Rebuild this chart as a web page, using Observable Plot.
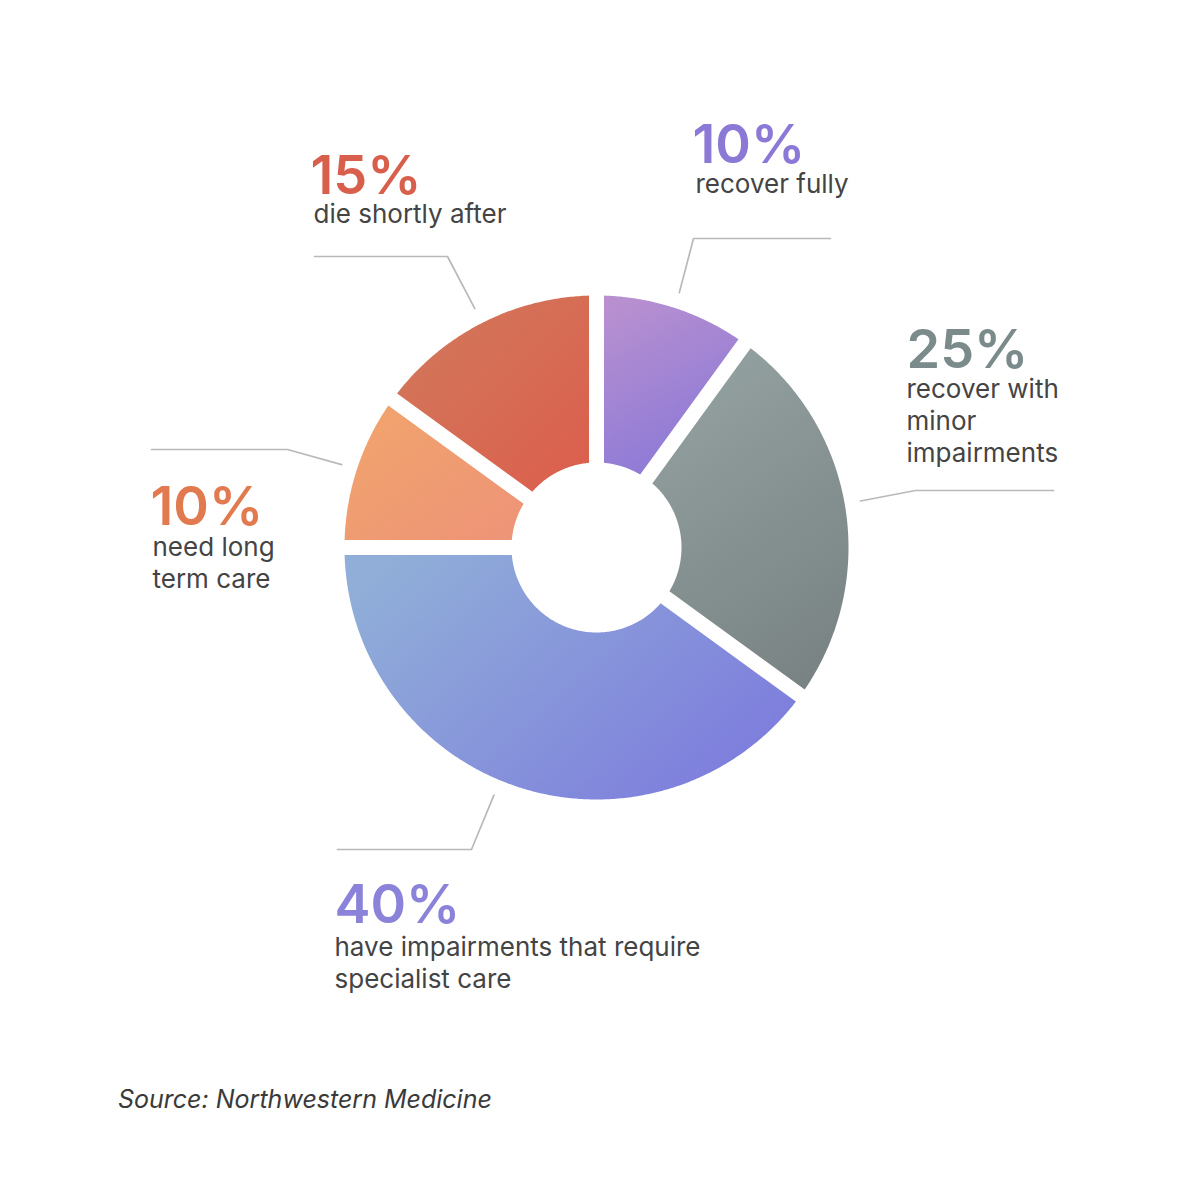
<!DOCTYPE html>
<html>
<head>
<meta charset="utf-8">
<script src="https://cdn.jsdelivr.net/npm/d3@7"></script>
<script src="https://cdn.jsdelivr.net/npm/@observablehq/plot@0.6"></script>
<style>
  html, body { margin: 0; padding: 0; background: #ffffff; }
  #chart { width: 1200px; }
  #chart g.pct text { letter-spacing: -1.5px; }
  #caption { font-family: Inter, "Open Sans", sans-serif; font-style: italic; font-size: 25px; color: #3a3a3a; padding-left: 118px; margin-top: 14px; line-height: 30px; }
</style>
</head>
<body>
<div id="chart"></div>
<div id="caption"></div>
<script>
// ---- data ----
const categories = ["recover fully", "recover with minor impairments", "have impairments that require specialist care", "need long term care", "die shortly after"];
const shares = [10, 25, 40, 10, 15];
const pctLabels = ["10%", "25%", "40%", "10%", "15%"];
const descriptions = ["recover fully", "recover with\nminor\nimpairments", "have impairments that require\nspecialist care", "need long\nterm care", "die shortly after"];
const sourceText = "Source: Northwestern Medicine";

// ---- styles ----
const labelColors = ["#8c79d6", "#7b8b8b", "#8a83d9", "#e27a50", "#d95f4d"];
const gradients = [
  {stops: ["#b890d0", "#8a78d7"], x1: 0.2, y1: 0, x2: 0.6, y2: 1},
  {stops: ["#93a1a0", "#798383"], x1: 0.3, y1: 0, x2: 0.7, y2: 1},
  {stops: ["#90aed8", "#7d7bdd"], x1: 0, y1: 0.2, x2: 1, y2: 0.8},
  {stops: ["#f1a56c", "#ee9378"], x1: 0, y1: 0, x2: 1, y2: 1},
  {stops: ["#d07a5c", "#dc5e4d"], x1: 0, y1: 0, x2: 1, y2: 1}
];

// ---- layout (pixels) ----
const W = 1200, H = 1070;
const cx = 596, cy = 547, R = 252, r0 = 85, halfGap = 7.5;
const leaderR = 268;
const labelLayout = [
  {x: 692, pctBase: 162, descBase: 192, dx: 3, angleShift: 0, elbows: [[693, 238], [830, 238]]},
  {x: 906, pctBase: 367, descBase: 397, dx: 0, angleShift: -1, elbows: [[915, 490], [1053, 490]]},
  {x: 334, pctBase: 922, descBase: 955, dx: 0, angleShift: 4.5, elbows: [[471, 849], [337, 849]]},
  {x: 150, pctBase: 524, descBase: 555, dx: 2, angleShift: 0, elbows: [[287, 449], [151, 449]]},
  {x: 310, pctBase: 193, descBase: 222, dx: 3, angleShift: 0, elbows: [[447, 256], [314, 256]]}
];
const descLineSpacing = 32;
const descSize = 26;

// ---- geometry from data ----
const total = d3.sum(shares);
const toRad = d => d * Math.PI / 180;
let cum = 0;
const slices = shares.map((v, i) => {
  const a0 = cum / total * 2 * Math.PI;
  cum += v;
  const a1 = cum / total * 2 * Math.PI;
  return {i, a0, a1, mid: (a0 + a1) / 2};
});
const pt = (a, rad) => ({x: cx + rad * Math.sin(a), y: cy - rad * Math.cos(a)});
const slicePolys = slices.map(s => {
  const dO = Math.asin(halfGap / R), dI = Math.asin(halfGap / r0);
  const pts = [];
  const nO = Math.max(8, Math.ceil((s.a1 - s.a0) / toRad(0.5)));
  for (let k = 0; k <= nO; k++) pts.push(pt(s.a0 + dO + (s.a1 - s.a0 - 2 * dO) * k / nO, R));
  const nI = Math.max(8, Math.ceil((s.a1 - s.a0) / toRad(1)));
  for (let k = 0; k <= nI; k++) pts.push(pt(s.a1 - dI - (s.a1 - s.a0 - 2 * dI) * k / nI, r0));
  return pts.map(p => ({...p, slice: categories[s.i]}));
});
const leaders = slices.flatMap(s => {
  const L = labelLayout[s.i];
  const start = pt(s.mid + toRad(L.angleShift), leaderR);
  return [start, ...L.elbows.map(([x, y]) => ({x, y}))].map(p => ({...p, slice: categories[s.i]}));
});
const pctData = slices.map(s => ({x: labelLayout[s.i].x, y: labelLayout[s.i].pctBase, text: pctLabels[s.i], color: labelColors[s.i]}));
const descData = slices.map(s => {
  const n = descriptions[s.i].split("\n").length;
  return {x: labelLayout[s.i].x + labelLayout[s.i].dx, y: labelLayout[s.i].descBase + (n - 1) * descLineSpacing, text: descriptions[s.i]};
});

const plot = Plot.plot({
  width: W, height: H,
  margin: 0,
  x: {domain: [0, W], range: [0, W], axis: null},
  y: {domain: [0, H], range: [0, H], axis: null},
  color: {type: "identity"},
  style: {fontFamily: "Inter, 'Open Sans', sans-serif", background: "#ffffff"},
  marks: [
    ...slicePolys.map((poly, i) => Plot.line(poly, {x: "x", y: "y", curve: "linear-closed", fill: `url(#slice-grad-${i})`, stroke: "none", ariaLabel: "slice"})),
    Plot.line(leaders, {x: "x", y: "y", z: "slice", stroke: "#b9b9b9", strokeWidth: 1.7}),
    Plot.text(pctData, {x: "x", y: "y", text: "text", fill: "color", textAnchor: "start", lineAnchor: "bottom", fontSize: 54, fontWeight: 600, ariaLabel: "percent"}),
    Plot.text(descData, {x: "x", y: "y", text: "text", fill: "#444444", textAnchor: "start", lineAnchor: "bottom", fontSize: descSize, lineHeight: descLineSpacing / descSize})
  ]
});

const svg = d3.select(plot);
const defs = svg.insert("defs", ":first-child");
gradients.forEach((g, i) => {
  const lg = defs.append("linearGradient").attr("id", `slice-grad-${i}`)
    .attr("x1", g.x1).attr("y1", g.y1).attr("x2", g.x2).attr("y2", g.y2);
  lg.append("stop").attr("offset", 0).attr("stop-color", g.stops[0]);
  lg.append("stop").attr("offset", 1).attr("stop-color", g.stops[1]);
});
// subtle grain like the reference
const f = defs.append("filter").attr("id", "grain").attr("x", 0).attr("y", 0).attr("width", 1).attr("height", 1);
f.append("feTurbulence").attr("type", "fractalNoise").attr("baseFrequency", 0.9).attr("numOctaves", 2).attr("seed", 3).attr("result", "noise");
f.append("feColorMatrix").attr("in", "noise").attr("type", "matrix")
  .attr("values", "0 0 0 0 0.5  0 0 0 0 0.5  0 0 0 0 0.5  0 0 0 0.18 0").attr("result", "grey");
f.append("feComposite").attr("in", "grey").attr("in2", "SourceGraphic").attr("operator", "in").attr("result", "clipped");
const m = f.append("feMerge");
m.append("feMergeNode").attr("in", "SourceGraphic");
m.append("feMergeNode").attr("in", "clipped");
svg.selectAll('g[aria-label="slice"]').attr("filter", "url(#grain)");
svg.selectAll('g[aria-label="percent"]').classed("pct", true);

document.getElementById("chart").appendChild(plot);
document.getElementById("caption").textContent = sourceText;
</script>
</body>
</html>
